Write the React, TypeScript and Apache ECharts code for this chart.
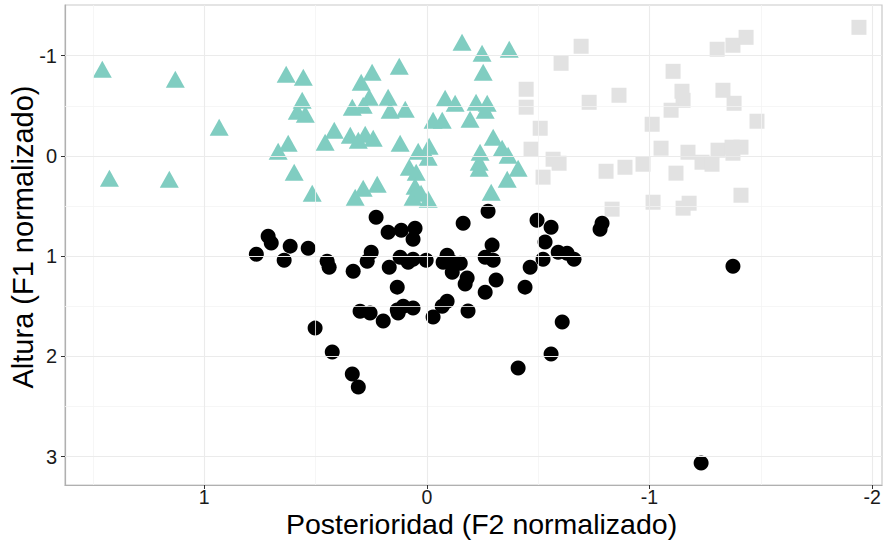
import React, { useEffect, useRef } from "react";
import * as echarts from "echarts";

// Group A (teal triangles): [F2, F1]
const triF2 = [1.458, 1.130, 0.933, 1.426, 1.157, 0.632, 0.555, 0.560, 0.582, 0.546, 0.623, 0.668, 0.596, 0.515, 0.457, 0.416, 0.344, 0.335, 0.295, 0.246, 0.124, 0.259, 0.286, 0.174, 0.165, 0.097, 0.308, 0.277, 0.241, 0.120, 0.039, -0.010, -0.006, 0.079, 0.048, 0.053, 0.062, -0.006, 0.026, 0.322, 0.286, 0.223, -0.158, -0.248, -0.370, -0.253, -0.082, -0.127, -0.221, -0.271, -0.262, -0.028, -0.069, -0.194, -0.298, -0.239, -0.235, -0.235, -0.338, -0.365, -0.410, -0.361, -0.289];
const triF1 = [-0.864, -0.765, -0.286, 0.222, 0.232, -0.815, -0.785, -0.555, -0.446, -0.416, -0.127, -0.047, 0.163, 0.372, -0.137, -0.256, -0.206, -0.486, -0.735, -0.834, -0.894, -0.585, -0.505, -0.585, -0.456, -0.466, -0.157, -0.216, -0.176, -0.127, -0.047, -0.097, 0.013, 0.113, 0.163, 0.302, 0.412, 0.432, 0.372, 0.412, 0.322, 0.282, -1.134, -1.024, -1.064, -0.834, -0.575, -0.525, -0.535, -0.525, -0.456, -0.356, -0.356, -0.366, -0.186, -0.037, 0.063, 0.123, -0.077, -0.007, 0.123, 0.232, 0.362];

// Group B (light grey squares)
const sqF2 = [-0.693, -0.603, -0.446, -0.446, -0.729, -0.863, -0.509, -0.468, -0.567, -0.594, -0.522, -0.805, -0.890, -0.971, -1.106, -1.146, -1.151, -1.097, -1.012, -1.052, -1.119, -1.016, -0.832, -1.151, -1.178, -1.941, -1.304, -1.375, -1.434, -1.330, -1.380, -1.483, -1.173, -1.236, -1.281, -1.308, -1.371, -1.411, -1.375, -1.411];
const sqF1 = [-1.094, -0.924, -0.665, -0.486, -0.535, -0.605, -0.276, -0.067, 0.033, 0.073, 0.212, 0.153, 0.113, 0.083, -0.844, -0.645, -0.555, -0.456, -0.316, -0.077, 0.172, 0.462, 0.531, 0.521, 0.472, -1.283, -1.064, -1.104, -1.183, -0.655, -0.525, -0.346, -0.037, 0.063, 0.083, -0.057, -0.087, -0.087, -0.027, 0.392];

// Group C (black circles)
const cirF2 = [0.713, 0.699, 0.766, 0.614, 0.641, 0.533, 0.448, 0.439, 0.331, 0.228, 0.174, 0.115, 0.053, 0.062, 0.250, 0.268, 0.169, 0.120, 0.084, 0.062, 0.003, 0.133, 0.300, 0.255, 0.196, 0.133, 0.106, 0.062, 0.129, -0.028, 0.502, 0.425, 0.335, 0.308, -0.163, -0.275, -0.495, -0.558, -0.531, -0.787, -0.778, -0.091, -0.073, -0.114, -0.150, -0.114, -0.181, -0.172, -0.293, -0.262, -0.298, -0.311, -0.262, -0.464, -0.522, -0.590, -0.630, -0.661, -0.441, -0.091, -0.069, -0.185, -0.608, -0.558, -0.410, -1.375, -1.232];
const cirF1 = [0.801, 0.870, 0.980, 0.900, 1.040, 0.920, 1.050, 1.110, 1.150, 0.611, 0.761, 0.741, 0.721, 0.831, 0.960, 1.050, 1.110, 1.010, 1.060, 1.030, 1.040, 1.309, 1.549, 1.568, 1.648, 1.538, 1.499, 1.518, 1.568, 1.608, 1.718, 1.957, 2.176, 2.306, 0.671, 0.551, 0.641, 0.711, 0.860, 0.671, 0.731, 0.990, 1.060, 1.060, 1.070, 1.160, 1.219, 1.279, 0.890, 1.010, 1.040, 1.239, 1.359, 1.110, 1.030, 0.960, 0.970, 1.030, 1.309, 1.449, 1.499, 1.548, 1.658, 1.977, 2.117, 1.100, 3.064];

const xTicks = [1, 0, -1, -2];
const yTicks = [-1, 0, 1, 2, 3];
const xMinor = [1.5, 0.5, -0.5, -1.5];
const yMinor = [-0.5, 0.5, 1.5, 2.5];

const xTitle = "Posterioridad (F2 normalizado)";
const yTitle = "Altura (F1 normalizado)";

const zip = (a: number[], b: number[]) => a.map((v, i) => [v, b[i]]);

export default function App() {
  const ref = useRef<HTMLDivElement>(null);
  useEffect(() => {
    document.body.style.margin = "0";
    if (!ref.current) return;
    const chart = echarts.init(ref.current, null, { renderer: "svg" });
    const font = "'Liberation Sans', Arial, Helvetica, sans-serif";
    const gridLines = (vals: number[], axis: "xAxis" | "yAxis", color: string, width: number) =>
      vals.map((v) => ({ [axis]: v, lineStyle: { color, width, type: "solid" } }));
    chart.setOption({
      animation: false,
      backgroundColor: "#ffffff",
      grid: {
        left: 65,
        right: 6,
        top: 5,
        bottom: 57,
        outerBoundsMode: "none",
        containLabel: false,
        show: true,
        borderColor: "#c9c9c9",
        borderWidth: 1.2,
        backgroundColor: "transparent",
      },
      xAxis: {
        type: "value",
        inverse: true,
        min: -2.0445,
        max: 1.6255,
        name: xTitle,
        nameLocation: "middle",
        nameGap: 26,
        nameMoveOverlap: false,
        nameTextStyle: { fontFamily: font, fontSize: 28.5, lineHeight: 26, color: "#000", padding: [0, 0, 0, 16] },
        axisLine: { show: true, onZero: false, lineStyle: { color: "#b0b0b0", width: 1.2 } },
        axisTick: { show: true, length: 4, customValues: xTicks, lineStyle: { color: "#333" } },
        axisLabel: { show: true, customValues: xTicks, fontFamily: font, fontSize: 19.5, lineHeight: 16, color: "#1a1a1a", margin: 4 },
        splitLine: { show: false },
      },
      yAxis: {
        type: "value",
        inverse: true,
        min: -1.5055,
        max: 3.283,
        name: yTitle,
        nameLocation: "middle",
        nameGap: 28,
        nameMoveOverlap: false,
        nameTextStyle: { fontFamily: font, fontSize: 29, color: "#000", padding: [0, 0, 0, 16] },
        axisLine: { show: true, onZero: false, lineStyle: { color: "#b0b0b0", width: 1.2 } },
        axisTick: { show: true, length: 4, customValues: yTicks, lineStyle: { color: "#333" } },
        axisLabel: { show: true, customValues: yTicks, fontFamily: font, fontSize: 20, color: "#1a1a1a", margin: 8 },
        splitLine: { show: false },
      },
      series: [
        {
          type: "scatter",
          data: [],
          z: 1,
          silent: true,
          markLine: {
            silent: true,
            symbol: "none",
            label: { show: false },
            animation: false,
            data: [
              ...gridLines(xMinor, "xAxis", "#f4f4f4", 0.8),
              ...gridLines(yMinor, "yAxis", "#f4f4f4", 0.8),
              ...gridLines(xTicks, "xAxis", "#ebebeb", 1.1),
              ...gridLines(yTicks, "yAxis", "#ebebeb", 1.1),
            ],
          },
        },
        {
          type: "scatter",
          z: 3,
          symbol: "triangle",
          symbolSize: [19, 17],
          itemStyle: { color: "#80cdc1", opacity: 1 },
          data: zip(triF2, triF1),
        },
        {
          type: "scatter",
          z: 3,
          symbol: "rect",
          symbolSize: 15,
          itemStyle: { color: "#e2e2e2", opacity: 1 },
          data: zip(sqF2, sqF1),
        },
        {
          type: "scatter",
          z: 4,
          symbol: "circle",
          symbolSize: 15,
          itemStyle: { color: "#000000", opacity: 1 },
          data: zip(cirF2, cirF1),
        },
      ],
    });
    return () => chart.dispose();
  }, []);
  return <div ref={ref} style={{ width: 888, height: 542 }} />;
}
